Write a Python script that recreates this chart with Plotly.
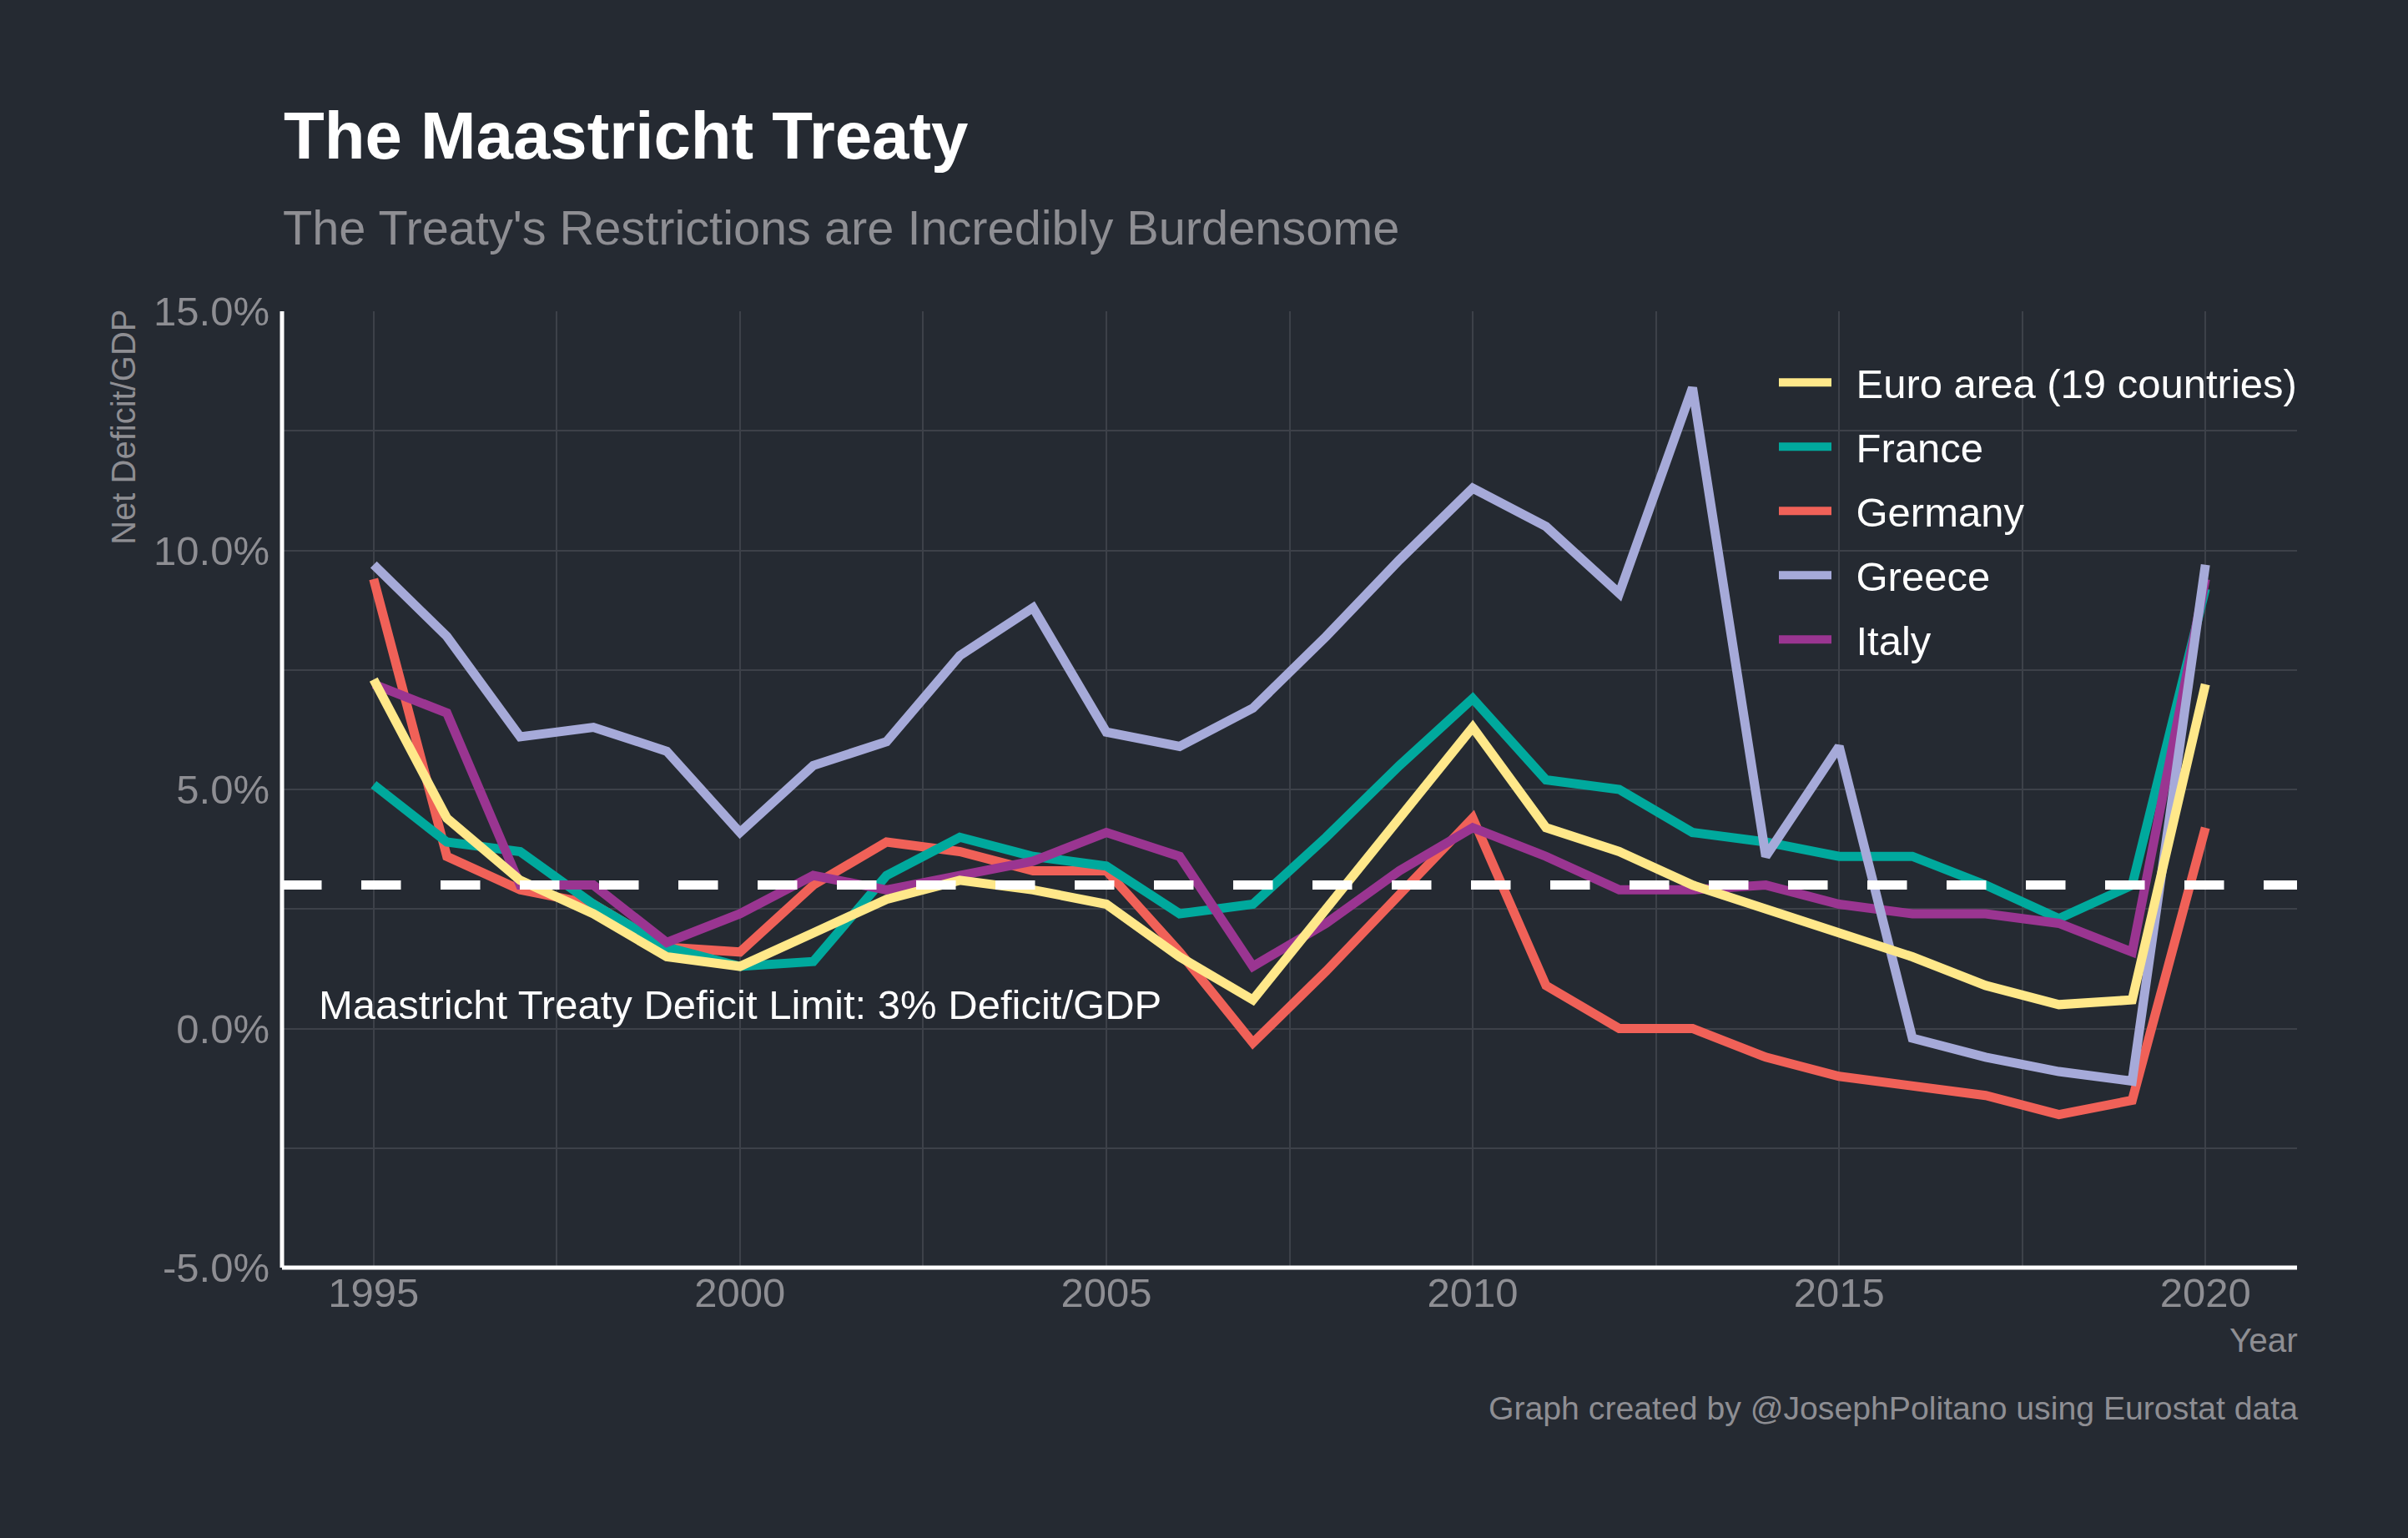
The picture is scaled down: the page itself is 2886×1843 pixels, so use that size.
import plotly.graph_objects as go

years = list(range(1995, 2021))
euro_area = [7.3, 4.4, 3.1, 2.4, 1.5, 1.3, 2.0, 2.7, 3.1, 2.9, 2.6, 1.5, 0.6, 2.5, 4.4, 6.3, 4.2, 3.7, 3.0, 2.5, 2.0, 1.5, 0.9, 0.5, 0.6, 7.2]
france = [5.1, 3.9, 3.7, 2.6, 1.7, 1.3, 1.4, 3.2, 4.0, 3.6, 3.4, 2.4, 2.6, 4.0, 5.5, 6.9, 5.2, 5.0, 4.1, 3.9, 3.6, 3.6, 3.0, 2.3, 3.0, 9.2]
germany = [9.4, 3.6, 2.9, 2.6, 1.7, 1.6, 3.0, 3.9, 3.7, 3.3, 3.3, 1.6, -0.3, 1.2, 2.8, 4.4, 0.9, 0.0, 0.0, -0.6, -1.0, -1.2, -1.4, -1.8, -1.5, 4.2]
greece = [9.7, 8.2, 6.1, 6.3, 5.8, 4.1, 5.5, 6.0, 7.8, 8.8, 6.2, 5.9, 6.7, 8.2, 9.8, 11.3, 10.5, 9.1, 13.4, 3.6, 5.9, -0.2, -0.6, -0.9, -1.1, 9.7]
italy = [7.2, 6.6, 3.0, 3.0, 1.8, 2.4, 3.2, 2.9, 3.2, 3.5, 4.1, 3.6, 1.3, 2.2, 3.3, 4.2, 3.6, 2.9, 2.9, 3.0, 2.6, 2.4, 2.4, 2.2, 1.6, 9.4]
treaty_limit = [3, 3]
x_range = [1993.75, 2021.25]
y_range = [-5, 15]
x_ticks = [1995, 2000, 2005, 2010, 2015, 2020]
x_minor = [1997.5, 2002.5, 2007.5, 2012.5, 2017.5]
y_ticks = [-5, 0, 5, 10, 15]
y_tick_labels = ["-5.0%", "0.0%", "5.0%", "10.0%", "15.0%"]
y_minor = [-2.5, 2.5, 7.5, 12.5]

W, H = 2886, 1843
L, R, T, B = 338, 2753, 372.7, 1518.7
BG = "#252A32"
GRID = "#3D4149"
GREY = "#8E8E93"
FONT = "Liberation Sans"


def px(x):
    return (x - L) / (R - L)


def py(y):
    return (B - y) / (B - T)


fig = go.Figure()
series = [
    ("Germany", germany, "#F06158", 3),
    ("France", france, "#00A99D", 2),
    ("Italy", italy, "#9A3591", 5),
    ("Greece", greece, "#A6AAD9", 4),
    ("Euro area (19 countries)", euro_area, "#FFE88A", 1),
]
for name, vals, color, rank in series:
    fig.add_trace(go.Scatter(
        x=years, y=vals, mode="lines", name="\u2002" + name,
        line=dict(color=color, width=11), legendrank=rank,
        legendgroup=name, hoverinfo="skip",
    ))
fig.add_trace(go.Scatter(
    x=x_range, y=treaty_limit, mode="lines", showlegend=False, hoverinfo="skip",
    line=dict(color="#FFFFFF", width=11, dash="47.5px,47.5px"),
))


def note(text, x, y, size, color, xanchor="left", xref="paper", yref="paper", **kw):
    fig.add_annotation(text=text, x=x, y=y, xref=xref, yref=yref, showarrow=False,
                       xanchor=xanchor, yanchor=kw.pop("yanchor", "middle"),
                       font=dict(family=FONT, size=size, color=color), **kw)


note("The Treaty's Restrictions are Incredibly Burdensome", px(336.5), py(273), 57.7, GREY)
note("Net Deficit/GDP", px(148.5), py(369), 40, GREY, xanchor="center", yanchor="top", textangle=-90)
note("Year", px(2756), py(1606), 40.5, GREY, xanchor="right")
note("Graph created by @JosephPolitano using Eurostat data", px(2756), py(1687), 39.2, GREY, xanchor="right")
note("Maastricht Treaty Deficit Limit: 3% Deficit/GDP", 1994.23, 0.5, 49, "#FFFFFF", xref="x", yref="y")

for x0, y0, x1, y1 in [(0, 0, 0, 1), (0, 0, 1, 0)]:
    fig.add_shape(type="line", xref="paper", yref="paper", x0=x0, y0=y0, x1=x1, y1=y1,
                  line=dict(color="#FFFFFF", width=5), layer="above")

fig.update_layout(
    width=W, height=H, autosize=False,
    paper_bgcolor=BG, plot_bgcolor=BG,
    margin=dict(l=L, r=W - R, t=T, b=H - B, pad=0),
    font=dict(family=FONT, color=GREY),
    title=dict(text="<b>The Maastricht Treaty</b>", x=px(340), xref="paper", xanchor="left",
               y=1 - 162 / H, yref="container", yanchor="middle",
               font=dict(family=FONT, size=79.8, color="#FFFFFF")),
    legend=dict(x=px(2127), y=py(419.5), xanchor="left", yanchor="top",
                bgcolor="rgba(0,0,0,0)", itemwidth=63, tracegroupgap=10.3,
                font=dict(family=FONT, size=49, color="#FFFFFF")),
    xaxis=dict(range=x_range, tickmode="array", tickvals=x_ticks, showgrid=True, gridcolor=GRID, gridwidth=2,
               minor=dict(tickmode="array", tickvals=x_minor, showgrid=True, gridcolor=GRID, gridwidth=2, ticks=""),
               showline=False, ticks="", zeroline=False,
               tickfont=dict(family=FONT, size=49, color=GREY), ticklabelstandoff=-3),
    yaxis=dict(range=y_range, tickmode="array", tickvals=y_ticks, ticktext=y_tick_labels,
               showgrid=True, gridcolor=GRID, gridwidth=2,
               minor=dict(tickmode="array", tickvals=y_minor, showgrid=True, gridcolor=GRID, gridwidth=2, ticks=""),
               showline=False, ticks="", zeroline=False,
               tickfont=dict(family=FONT, size=49, color=GREY), ticklabelstandoff=14),
)

fig.write_html("out.html", config={"displayModeBar": False},
               post_script="document.body.style.margin='0';document.body.style.background='%s';" % BG)
